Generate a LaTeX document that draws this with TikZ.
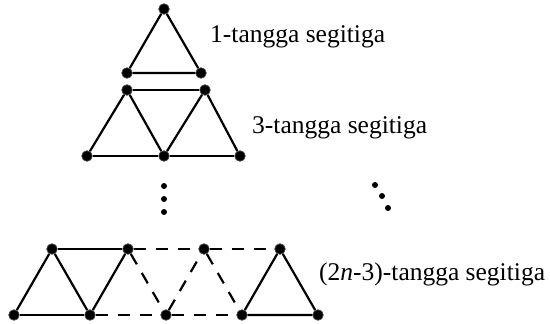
\documentclass[tikz,border=0pt]{standalone}
\usepackage{fontspec}
\setmainfont{Liberation Serif}
\begin{document}
\begin{tikzpicture}[x=1pt,y=-1pt,
  vtx/.style={circle,fill=black,draw=black!75,line width=0.8pt,inner sep=0pt,minimum size=10.5pt},
  sdot/.style={circle,fill=black,inner sep=0pt,minimum size=6pt},
  edge/.style={line width=2.2pt},
  dedge/.style={line width=2.2pt,dash pattern=on 12pt off 10pt},
  lbl/.style={anchor=base west,inner sep=0pt,font=\fontsize{25.5}{29}\selectfont}]
\useasboundingbox (0,0) rectangle (550,324);
% 1-tangga
\node[vtx] (a1) at (164,9) {};
\node[vtx] (a2) at (127,73) {};
\node[vtx] (a3) at (201,73) {};
\draw[edge] (a1) -- (a2) -- (a3) -- (a1);
\node[lbl] (t1) at (210,42) {1-tangga segitiga};
% 3-tangga
\node[vtx] (b1) at (127,90) {};
\node[vtx] (b2) at (205,90) {};
\node[vtx] (b3) at (87,156) {};
\node[vtx] (b4) at (164,156) {};
\node[vtx] (b5) at (240,156) {};
\draw[edge] (b1) -- (b2);
\draw[edge] (b3) -- (b4) -- (b5);
\draw[edge] (b3) -- (b1) -- (b4) -- (b2) -- (b5);
\node[lbl] (t2) at (252,133) {3-tangga segitiga};
% dots
\node[sdot] (d1) at (164,186) {};
\node[sdot] (d2) at (164,199) {};
\node[sdot] (d3) at (164,212) {};
\node[sdot] (e1) at (375,185) {};
\node[sdot] (e2) at (382,196) {};
\node[sdot] (e3) at (388,208) {};
% (2n-3)-tangga
\node[vtx] (c1) at (52,249) {};
\node[vtx] (c2) at (128,249) {};
\node[vtx] (c3) at (204,249) {};
\node[vtx] (c4) at (280,249) {};
\node[vtx] (u1) at (14,315) {};
\node[vtx] (u2) at (90,315) {};
\node[vtx] (u3) at (166,315) {};
\node[vtx] (u4) at (242,315) {};
\node[vtx] (u5) at (318,315) {};
\draw[edge] (u1) -- (u2);
\draw[edge] (c1) -- (c2);
\draw[edge] (u1) -- (c1) -- (u2) -- (c2);
\draw[dedge] (u2) -- (u3) -- (u4);
\draw[dedge] (c2) -- (c3) -- (c4);
\draw[dedge] (c2) -- (u3) -- (c3) -- (u4);
\draw[edge] (u4) -- (c4) -- (u5) -- (u4);
\node[lbl] (t3) at (319,280) {(2\textit{n}-3)-tangga segitiga};
\end{tikzpicture}
\end{document}
